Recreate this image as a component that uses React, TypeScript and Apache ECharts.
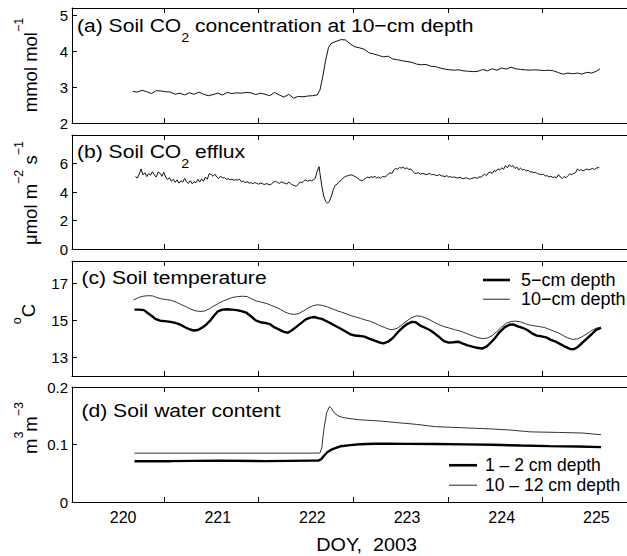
import React, { useEffect, useRef } from 'react';
import * as echarts from 'echarts';

const FONT = '"Liberation Sans", Arial, Helvetica, sans-serif';

// Axis ticks / labels
const xLabelDays = [220, 221, 222, 223, 224, 225];
const xTickDays = [220.43, 221.43, 222.43, 223.43, 224.43, 225.43];
const yTicksA = [2, 3, 4, 5];
const yTicksB = [0, 2, 4, 6];
const yTicksC = [13, 15, 17];
const yTicksD = [0, 0.1, 0.2];

// (a) Soil CO2 concentration at 10-cm depth (mmol mol-1)
const co2Days = [220.10, 220.15, 220.20, 220.25, 220.30, 220.35, 220.40, 220.45, 220.50, 220.55, 220.60, 220.65, 220.70, 220.75, 220.80, 220.85, 220.90, 220.95, 221.00, 221.05, 221.10, 221.15, 221.20, 221.25, 221.30, 221.35, 221.40, 221.45, 221.50, 221.55, 221.60, 221.65, 221.70, 221.75, 221.80, 221.85, 221.90, 221.95, 222.00, 222.05, 222.08, 222.11, 222.14, 222.17, 222.20, 222.25, 222.30, 222.35, 222.40, 222.45, 222.50, 222.55, 222.60, 222.65, 222.70, 222.75, 222.80, 222.85, 222.90, 222.95, 223.00, 223.05, 223.10, 223.15, 223.20, 223.25, 223.30, 223.35, 223.40, 223.45, 223.50, 223.55, 223.60, 223.65, 223.70, 223.75, 223.80, 223.85, 223.90, 223.95, 224.00, 224.05, 224.10, 224.15, 224.20, 224.25, 224.30, 224.35, 224.40, 224.45, 224.50, 224.55, 224.60, 224.65, 224.70, 224.75, 224.80, 224.85, 224.90, 224.95, 225.00, 225.04];
const co2Conc = [2.88, 2.86, 2.91, 2.87, 2.82, 2.90, 2.89, 2.87, 2.86, 2.80, 2.83, 2.78, 2.84, 2.80, 2.86, 2.80, 2.76, 2.79, 2.83, 2.78, 2.85, 2.82, 2.84, 2.83, 2.85, 2.84, 2.79, 2.83, 2.80, 2.76, 2.85, 2.78, 2.72, 2.80, 2.69, 2.74, 2.73, 2.75, 2.76, 2.78, 2.92, 3.30, 3.75, 4.10, 4.22, 4.27, 4.32, 4.31, 4.20, 4.12, 4.09, 4.05, 3.95, 3.92, 3.88, 3.84, 3.86, 3.78, 3.76, 3.73, 3.71, 3.69, 3.64, 3.62, 3.63, 3.58, 3.57, 3.53, 3.50, 3.48, 3.47, 3.48, 3.45, 3.44, 3.43, 3.44, 3.49, 3.45, 3.51, 3.47, 3.53, 3.50, 3.55, 3.51, 3.49, 3.48, 3.47, 3.48, 3.47, 3.46, 3.47, 3.45, 3.40, 3.36, 3.39, 3.37, 3.39, 3.36, 3.41, 3.39, 3.44, 3.51];

// (b) Soil CO2 efflux (umol m-2 s-1)
const effluxDays = [220.13, 220.15, 220.17, 220.19, 220.21, 220.23, 220.25, 220.27, 220.29, 220.31, 220.33, 220.35, 220.37, 220.39, 220.41, 220.43, 220.45, 220.47, 220.49, 220.51, 220.53, 220.55, 220.57, 220.59, 220.61, 220.63, 220.65, 220.67, 220.69, 220.71, 220.73, 220.75, 220.77, 220.79, 220.81, 220.83, 220.85, 220.87, 220.89, 220.91, 220.93, 220.95, 220.97, 220.99, 221.01, 221.03, 221.05, 221.07, 221.09, 221.11, 221.13, 221.15, 221.17, 221.19, 221.21, 221.23, 221.25, 221.27, 221.29, 221.31, 221.33, 221.35, 221.37, 221.39, 221.41, 221.43, 221.45, 221.47, 221.49, 221.51, 221.53, 221.55, 221.57, 221.59, 221.61, 221.63, 221.65, 221.67, 221.69, 221.71, 221.73, 221.75, 221.77, 221.79, 221.81, 221.83, 221.85, 221.87, 221.89, 221.91, 221.93, 221.95, 221.97, 221.99, 222.01, 222.03, 222.05, 222.07, 222.08, 222.10, 222.12, 222.14, 222.16, 222.18, 222.20, 222.22, 222.24, 222.26, 222.28, 222.30, 222.32, 222.34, 222.36, 222.38, 222.40, 222.42, 222.44, 222.46, 222.48, 222.50, 222.52, 222.54, 222.56, 222.58, 222.60, 222.62, 222.64, 222.66, 222.68, 222.70, 222.72, 222.74, 222.76, 222.78, 222.80, 222.82, 222.84, 222.86, 222.88, 222.90, 222.92, 222.94, 222.96, 222.98, 223.00, 223.02, 223.04, 223.06, 223.08, 223.10, 223.12, 223.14, 223.16, 223.18, 223.20, 223.22, 223.24, 223.26, 223.28, 223.30, 223.32, 223.34, 223.36, 223.38, 223.40, 223.42, 223.44, 223.46, 223.48, 223.50, 223.52, 223.54, 223.56, 223.58, 223.60, 223.62, 223.64, 223.66, 223.68, 223.70, 223.72, 223.74, 223.76, 223.78, 223.80, 223.82, 223.84, 223.86, 223.88, 223.90, 223.92, 223.94, 223.96, 223.98, 224.00, 224.02, 224.04, 224.06, 224.08, 224.10, 224.12, 224.14, 224.16, 224.18, 224.20, 224.22, 224.24, 224.26, 224.28, 224.30, 224.32, 224.34, 224.36, 224.38, 224.40, 224.42, 224.44, 224.46, 224.48, 224.50, 224.52, 224.54, 224.56, 224.58, 224.60, 224.62, 224.64, 224.66, 224.68, 224.70, 224.72, 224.74, 224.76, 224.78, 224.80, 224.82, 224.84, 224.86, 224.88, 224.90, 224.92, 224.94, 224.96, 224.98, 225.00, 225.03];
const effluxVals = [5.10, 4.98, 5.25, 5.62, 5.20, 5.35, 5.08, 5.30, 5.18, 5.42, 5.20, 5.05, 5.40, 5.32, 5.10, 5.38, 5.05, 4.88, 5.00, 4.75, 4.90, 4.68, 4.85, 4.62, 4.78, 4.70, 4.95, 4.72, 4.60, 4.80, 4.58, 4.72, 4.65, 4.88, 4.70, 4.92, 4.75, 5.05, 4.90, 5.30, 5.22, 5.10, 5.25, 5.05, 4.95, 5.12, 4.98, 5.02, 4.88, 4.95, 4.85, 4.90, 4.82, 4.86, 4.84, 4.90, 4.72, 4.76, 4.66, 4.72, 4.62, 4.66, 4.58, 4.66, 4.62, 4.55, 4.62, 4.60, 4.52, 4.58, 4.56, 4.50, 4.58, 4.70, 4.75, 4.68, 4.60, 4.72, 4.65, 4.62, 4.55, 4.70, 4.58, 4.50, 4.45, 4.40, 4.55, 4.70, 4.65, 4.78, 4.85, 4.75, 4.82, 4.78, 4.85, 4.95, 5.45, 5.78, 5.30, 4.40, 3.70, 3.35, 3.20, 3.35, 3.70, 4.15, 4.45, 4.55, 4.72, 4.80, 4.95, 5.05, 5.12, 5.15, 5.20, 5.18, 5.12, 5.05, 4.95, 4.85, 4.80, 4.85, 4.95, 5.05, 5.00, 5.08, 5.02, 5.10, 4.98, 5.05, 4.95, 5.10, 5.05, 5.12, 5.25, 5.35, 5.30, 5.55, 5.65, 5.60, 5.72, 5.68, 5.75, 5.62, 5.70, 5.58, 5.62, 5.45, 5.32, 5.30, 5.36, 5.25, 5.30, 5.28, 5.22, 5.26, 5.30, 5.20, 5.24, 5.18, 5.15, 5.22, 5.14, 5.12, 5.08, 5.15, 5.05, 5.08, 5.02, 5.06, 5.00, 4.98, 5.04, 4.96, 4.94, 5.00, 4.96, 4.90, 4.95, 4.98, 5.02, 4.96, 5.06, 5.04, 5.15, 5.25, 5.15, 5.35, 5.40, 5.30, 5.50, 5.45, 5.62, 5.55, 5.70, 5.60, 5.85, 5.70, 5.92, 5.78, 5.85, 5.65, 5.75, 5.55, 5.68, 5.55, 5.58, 5.48, 5.52, 5.40, 5.42, 5.35, 5.38, 5.28, 5.25, 5.22, 5.26, 5.12, 5.15, 5.05, 5.10, 5.02, 5.06, 5.00, 5.22, 5.05, 4.95, 5.08, 5.00, 5.15, 5.28, 5.22, 5.30, 5.35, 5.62, 5.50, 5.58, 5.48, 5.55, 5.62, 5.55, 5.60, 5.65, 5.58, 5.68, 5.72];

// (c) Soil temperature (degC)
const temp5Days = [220.12, 220.17, 220.22, 220.26, 220.30, 220.34, 220.39, 220.44, 220.50, 220.55, 220.60, 220.65, 220.70, 220.75, 220.79, 220.84, 220.88, 220.92, 220.96, 221.00, 221.05, 221.10, 221.15, 221.20, 221.25, 221.30, 221.35, 221.40, 221.45, 221.50, 221.55, 221.60, 221.65, 221.70, 221.74, 221.78, 221.83, 221.88, 221.93, 221.98, 222.02, 222.06, 222.10, 222.15, 222.20, 222.25, 222.30, 222.35, 222.40, 222.45, 222.50, 222.55, 222.60, 222.65, 222.70, 222.75, 222.80, 222.85, 222.90, 222.95, 223.00, 223.05, 223.09, 223.14, 223.19, 223.24, 223.29, 223.34, 223.39, 223.44, 223.49, 223.54, 223.59, 223.64, 223.69, 223.74, 223.79, 223.84, 223.88, 223.93, 223.98, 224.03, 224.08, 224.12, 224.17, 224.22, 224.27, 224.32, 224.37, 224.42, 224.47, 224.52, 224.57, 224.62, 224.67, 224.72, 224.76, 224.80, 224.85, 224.90, 224.95, 225.00, 225.05];
const temp5Vals = [15.58, 15.58, 15.55, 15.40, 15.25, 15.08, 14.98, 14.96, 14.92, 14.86, 14.78, 14.64, 14.52, 14.45, 14.48, 14.62, 14.78, 14.98, 15.25, 15.48, 15.58, 15.60, 15.58, 15.55, 15.50, 15.42, 15.22, 15.00, 14.90, 14.86, 14.80, 14.62, 14.50, 14.38, 14.33, 14.45, 14.65, 14.85, 15.05, 15.15, 15.18, 15.12, 15.08, 14.95, 14.82, 14.68, 14.55, 14.40, 14.25, 14.18, 14.16, 14.12, 14.02, 13.92, 13.82, 13.76, 13.85, 14.05, 14.35, 14.60, 14.80, 14.92, 14.90, 14.72, 14.60, 14.48, 14.30, 14.10, 13.88, 13.80, 13.82, 13.85, 13.74, 13.65, 13.58, 13.52, 13.48, 13.58, 13.78, 14.05, 14.38, 14.62, 14.76, 14.78, 14.68, 14.60, 14.48, 14.30, 14.18, 14.14, 14.08, 13.95, 13.85, 13.72, 13.58, 13.46, 13.44, 13.55, 13.78, 14.02, 14.25, 14.50, 14.60];
const temp10Days = [220.11, 220.16, 220.21, 220.26, 220.31, 220.36, 220.41, 220.46, 220.51, 220.56, 220.61, 220.66, 220.71, 220.76, 220.81, 220.86, 220.91, 220.96, 221.01, 221.06, 221.11, 221.16, 221.21, 221.26, 221.31, 221.36, 221.41, 221.46, 221.51, 221.56, 221.61, 221.66, 221.71, 221.76, 221.81, 221.86, 221.91, 221.96, 222.01, 222.06, 222.11, 222.16, 222.21, 222.26, 222.31, 222.36, 222.41, 222.46, 222.51, 222.56, 222.61, 222.66, 222.71, 222.76, 222.81, 222.85, 222.90, 222.95, 223.00, 223.05, 223.10, 223.15, 223.20, 223.25, 223.30, 223.35, 223.40, 223.45, 223.50, 223.55, 223.60, 223.65, 223.70, 223.75, 223.80, 223.85, 223.90, 223.95, 224.00, 224.05, 224.10, 224.15, 224.20, 224.25, 224.30, 224.35, 224.40, 224.45, 224.50, 224.55, 224.60, 224.65, 224.70, 224.75, 224.80, 224.85, 224.90, 224.95, 225.00, 225.05];
const temp10Vals = [16.10, 16.22, 16.30, 16.33, 16.32, 16.22, 16.15, 16.12, 16.08, 15.98, 15.86, 15.75, 15.62, 15.52, 15.48, 15.50, 15.62, 15.78, 15.92, 16.05, 16.15, 16.24, 16.28, 16.30, 16.28, 16.15, 16.04, 15.98, 15.92, 15.82, 15.72, 15.60, 15.45, 15.35, 15.32, 15.38, 15.52, 15.68, 15.80, 15.84, 15.80, 15.72, 15.62, 15.52, 15.44, 15.35, 15.25, 15.18, 15.10, 15.02, 14.95, 14.85, 14.72, 14.62, 14.52, 14.50, 14.58, 14.78, 14.98, 15.15, 15.24, 15.22, 15.12, 15.00, 14.86, 14.74, 14.65, 14.58, 14.50, 14.44, 14.35, 14.25, 14.15, 14.06, 14.02, 14.05, 14.18, 14.40, 14.65, 14.85, 14.94, 14.96, 14.92, 14.82, 14.74, 14.70, 14.66, 14.62, 14.52, 14.42, 14.32, 14.18, 14.05, 13.97, 14.00, 14.12, 14.28, 14.45, 14.58, 14.64];

// (d) Soil water content (m3 m-3)
const swc1Days = [220.12, 220.50, 221.00, 221.50, 222.00, 222.06, 222.09, 222.12, 222.16, 222.20, 222.25, 222.30, 222.40, 222.50, 222.65, 222.80, 223.00, 223.30, 223.60, 223.90, 224.20, 224.50, 224.80, 225.05];
const swc1Vals = [0.071, 0.071, 0.072, 0.071, 0.072, 0.072, 0.074, 0.080, 0.087, 0.091, 0.094, 0.097, 0.099, 0.1005, 0.1013, 0.1012, 0.1010, 0.1008, 0.1003, 0.0995, 0.0982, 0.0972, 0.0965, 0.0955];
const swc10Days = [220.12, 221.00, 222.00, 222.08, 222.10, 222.12, 222.15, 222.18, 222.20, 222.23, 222.27, 222.32, 222.40, 222.50, 222.70, 222.90, 223.10, 223.30, 223.60, 223.90, 224.10, 224.30, 224.60, 224.85, 225.05];
const swc10Vals = [0.085, 0.085, 0.085, 0.0852, 0.095, 0.125, 0.155, 0.166, 0.163, 0.155, 0.150, 0.147, 0.145, 0.143, 0.141, 0.138, 0.135, 0.131, 0.129, 0.127, 0.125, 0.122, 0.121, 0.120, 0.117];

const X_MIN = 219.46;
const X_MAX = 226;
const GRID_LEFT = 72;
const GRID_WIDTH = 619;

const pair = (ts: number[], vs: number[]) => ts.map((t, i) => [t, vs[i]]);

export default function App() {
  const ref = useRef<HTMLDivElement>(null);

  useEffect(() => {
    if (!ref.current) return;
    const chart = echarts.init(ref.current, null, { renderer: 'svg' });

    const grids = [
      { top: 8, height: 115 },
      { top: 135, height: 114 },
      { top: 261, height: 115 },
      { top: 387, height: 115 },
    ].map((g) => ({ left: GRID_LEFT, width: GRID_WIDTH, top: g.top, height: g.height, containLabel: false, outerBoundsMode: 'none' }));

    const xAxes: any[] = [];
    for (let i = 0; i < 4; i++) {
      const base = {
        type: 'value',
        gridIndex: i,
        min: X_MIN,
        max: X_MAX,
        axisLine: { show: true, onZero: false, lineStyle: { color: '#000', width: 1 } },
        axisTick: { show: true, inside: true, length: 5, customValues: xTickDays, lineStyle: { color: '#000', width: 1 } },
        splitLine: { show: false },
      };
      xAxes.push({
        ...base,
        position: 'bottom',
        axisLabel: i === 3
          ? { show: true, customValues: xLabelDays, fontSize: 16, color: '#000', fontFamily: FONT, margin: 7, formatter: (v: number) => String(v) }
          : { show: false },
      });
      xAxes.push({ ...base, position: 'top', axisLabel: { show: false } });
    }

    const yCfg = [
      { min: 2, max: 5.2, ticks: yTicksA },
      { min: 0, max: 8, ticks: yTicksB },
      { min: 12, max: 18.2, ticks: yTicksC },
      { min: 0, max: 0.2, ticks: yTicksD },
    ];
    const yAxes = yCfg.map((c, i) => ({
      type: 'value',
      gridIndex: i,
      min: c.min,
      max: c.max,
      axisLine: { show: true, onZero: false, lineStyle: { color: '#000', width: 1 } },
      axisTick: { show: true, inside: true, length: 5, customValues: c.ticks, lineStyle: { color: '#000', width: 1 } },
      axisLabel: {
        customValues: c.ticks,
        fontSize: 15,
        color: '#000',
        fontFamily: FONT,
        margin: 4,
        formatter: (v: number) => (i === 3 ? (v === 0 ? '0' : v.toFixed(1)) : String(v)),
      },
      splitLine: { show: false },
    }));

    const thick = 2.4;
    const series: any[] = [
      { name: 'CO2 concentration', type: 'line', xAxisIndex: 0, yAxisIndex: 0, data: pair(co2Days, co2Conc), symbol: 'none', lineStyle: { color: '#111', width: 1 }, itemStyle: { color: '#111' } },
      { name: 'CO2 efflux', type: 'line', xAxisIndex: 2, yAxisIndex: 1, data: pair(effluxDays, effluxVals), symbol: 'none', lineStyle: { color: '#111', width: 1 }, itemStyle: { color: '#111' } },
      { name: '5−cm depth', type: 'line', xAxisIndex: 4, yAxisIndex: 2, data: pair(temp5Days, temp5Vals), symbol: 'none', lineStyle: { color: '#000', width: thick }, itemStyle: { color: '#000' } },
      { name: '10−cm depth', type: 'line', xAxisIndex: 4, yAxisIndex: 2, data: pair(temp10Days, temp10Vals), symbol: 'none', lineStyle: { color: '#333', width: 1 }, itemStyle: { color: '#555' } },
      { name: '1 – 2 cm depth', type: 'line', xAxisIndex: 6, yAxisIndex: 3, data: pair(swc1Days, swc1Vals), symbol: 'none', lineStyle: { color: '#000', width: thick }, itemStyle: { color: '#000' } },
      { name: '10 – 12 cm depth', type: 'line', xAxisIndex: 6, yAxisIndex: 3, data: pair(swc10Days, swc10Vals), symbol: 'none', lineStyle: { color: '#333', width: 1 }, itemStyle: { color: '#555' } },
    ];

    const mkLegend = (name: string, left: number, cy: number, ih: number, iw: number, fs: number, gap: number) => ({
      data: [name],
      left,
      top: cy - fs / 2,
      orient: 'horizontal',
      icon: 'rect',
      itemWidth: iw,
      itemHeight: ih,
      padding: 0,
      selectedMode: false,
      textStyle: { fontSize: fs, color: '#000', fontFamily: FONT, padding: [0, 0, 0, gap] },
    });
    const legends = [
      mkLegend('5−cm depth', 483, 280, 2.6, 27, 18, 6),
      mkLegend('10−cm depth', 483, 299.3, 1.3, 27, 18, 6),
      mkLegend('1 – 2 cm depth', 449, 465, 2.6, 28, 17.5, 3),
      mkLegend('10 – 12 cm depth', 449, 485, 1.3, 28, 17.5, 3),
    ];

    const TS = 18.5;
    const titleRich = {
      t: { fontSize: TS, fontFamily: FONT, color: '#000', verticalAlign: 'middle' },
      s: { fontSize: 12.5, fontFamily: FONT, color: '#000', verticalAlign: 'middle', padding: [26, 0, 0, 0] },
    };
    const title = (x: number, y: number, text: string) => ({
      type: 'text', x, y, scaleX: 1.14, silent: true,
      style: { text, rich: titleRich, align: 'left', verticalAlign: 'middle', fill: '#000', font: `${TS}px ${FONT}` },
    });
    const nameRich = {
      m: { fontSize: 18.5, fontFamily: FONT, color: '#000', verticalAlign: 'middle' },
      s: { fontSize: 12.5, fontFamily: FONT, color: '#000', verticalAlign: 'middle', padding: [0, 0, 22, 0] },
    };
    const yname = (x: number, y: number, text: string) => ({
      type: 'text', x, y, rotation: Math.PI / 2, silent: true,
      style: { text, rich: nameRich, align: 'center', verticalAlign: 'middle', fill: '#000', font: `18.5px ${FONT}` },
    });

    const graphic = [
      title(77, 25, '{t|(a) Soil CO}{s|2}{t| concentration at 10−cm depth}'),
      title(77, 151.3, '{t|(b) Soil CO}{s|2}{t| efflux}'),
      title(81.5, 277.3, '{t|(c) Soil temperature}'),
      title(81.5, 410.8, '{t|(d) Soil water content}'),
      yname(30, 65, '{m|mmol mol}{s|−1}'),
      yname(30, 193, '{m|μmol m}{s|−2}{m| s}{s|−1}'),
      yname(28, 314, '{s|o}{m|C}'),
      yname(30, 428, '{m|m}{s|3}{m|m}{s|−3}'),
      {
        type: 'text', x: 366.7, y: 545, scaleX: 1.1, silent: true,
        style: { text: 'DOY,  2003', align: 'center', verticalAlign: 'middle', fill: '#000', font: `18px ${FONT}` },
      },
    ];

    chart.setOption({
      animation: false,
      backgroundColor: '#fff',
      textStyle: { fontFamily: FONT },
      grid: grids,
      xAxis: xAxes,
      yAxis: yAxes,
      series,
      legend: legends,
      graphic,
    });

    return () => chart.dispose();
  }, []);

  return <div ref={ref} style={{ position: 'fixed', left: 0, top: 0, width: 627, height: 556 }} />;
}
